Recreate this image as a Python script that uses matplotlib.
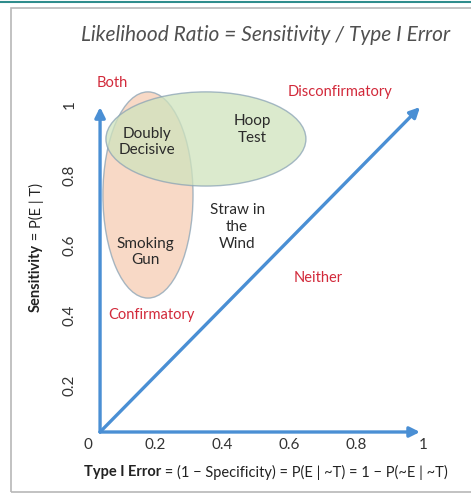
import matplotlib
matplotlib.use('Agg')
from matplotlib import pyplot as plt
from matplotlib.patches import Ellipse, Rectangle

plt.rcParams['font.family'] = ['Lato', 'DejaVu Sans']

# tick values
ticks = [0, 0.2, 0.4, 0.6, 0.8, 1]
tick_labels = ['0', '0.2', '0.4', '0.6', '0.8', '1']
ytick_vals = [0.2, 0.4, 0.6, 0.8, 1]
ytick_labels = ['0.2', '0.4', '0.6', '0.8', '1']

# regions: (label, x center, y center, width, height, fill)
regions = ['Smoking Gun', 'Hoop Test']
region_x = [0.179, 0.352]
region_y = [0.743, 0.903]
region_w = [0.269, 0.597]
region_h = [0.589, 0.269]
region_colors = ['#f6cdb3', '#cfe3bd']

# test type labels
test_names = ['Doubly\nDecisive', 'Smoking\nGun', 'Hoop\nTest', 'Straw in\nthe\nWind']
test_x = [0.176, 0.17, 0.49, 0.445]
test_y = [0.894, 0.58, 0.929, 0.651]

# corner labels
corner_names = ['Both', 'Disconfirmatory', 'Neither', 'Confirmatory']
corner_x = [0.072, 0.752, 0.687, 0.19]
corner_y = [1.063, 1.037, 0.506, 0.40]

origin = (0.036, 0.066)
x_end = 0.991
y_end = 0.994

fig = plt.figure(figsize=(4.71, 4.95), dpi=100)

# picture frame
fig.add_artist(Rectangle((11 / 471, 3 / 495), 470 / 471, 484 / 495,
                         transform=fig.transFigure, fill=False,
                         edgecolor='#b8b8b8', lw=1.2))
fig.add_artist(plt.Line2D([0, 1], [1 - 2 / 495, 1 - 2 / 495],
                          transform=fig.transFigure, color='#2f8c8c', lw=1.5))

ax = fig.add_axes([88 / 471, 63 / 495, 351.75 / 471, 362 / 495])
ax.set_xlim(0, 1.05)
ax.set_ylim(0.066, 1.1)
for s in ax.spines.values():
    s.set_visible(False)
ax.patch.set_alpha(0)

# ellipses
for i in range(len(regions)):
    e = Ellipse((region_x[i], region_y[i]), region_w[i], region_h[i],
                facecolor=region_colors[i], edgecolor='#8aa3b5', lw=1.0,
                alpha=0.75, zorder=1)
    ax.add_patch(e)

# arrows
arrow_kw = dict(arrowstyle='-|>,head_length=0.6,head_width=0.3',
                color='#4a8fd4', lw=2.4, shrinkA=0, shrinkB=0)
ax.annotate('', xy=(origin[0], y_end), xytext=origin, arrowprops=arrow_kw, zorder=3)
ax.annotate('', xy=(x_end, origin[1]), xytext=origin, arrowprops=arrow_kw, zorder=3)
ax.annotate('', xy=(x_end, y_end), xytext=origin, arrowprops=arrow_kw, zorder=3)

for name, x, y in zip(test_names, test_x, test_y):
    ax.text(x, y, name, ha='center', va='center', fontsize=11,
            color='#2a2a2a', linespacing=1.25, zorder=4)

for name, x, y in zip(corner_names, corner_x, corner_y):
    ax.text(x, y, name, ha='center', va='center', fontsize=10.5,
            color='#d2293a', zorder=4)

ax.set_xticks(ticks)
ax.set_xticklabels(tick_labels)
ax.set_yticks(ytick_vals)
ax.set_yticklabels(ytick_labels, rotation=90, va='center')
ax.tick_params(axis='both', length=0, labelsize=11, labelcolor='#333333')
ax.tick_params(axis='x', pad=4)
ax.tick_params(axis='y', pad=8)

# title
fig.text(0.563, 1 - 35 / 495, 'Likelihood Ratio = Sensitivity / Type I Error',
         ha='center', va='center', fontsize=15, style='italic',
         color='#505050')

# x label: bold part then regular part
t1 = fig.text(84 / 471, 1 - 472 / 495, 'Type I Error', ha='left', va='center',
              fontsize=10.5, fontweight='bold', color='#222222')
ax.annotate(' = (1 \u2212 Specificity) = P(E | ~T) = 1 \u2212 P(~E | ~T)',
            xy=(1, 0.5), xycoords=t1, ha='left', va='center',
            fontsize=10.5, color='#222222', annotation_clip=False)

# y label: bold part then regular part
t2 = fig.text(36 / 471, 1 - 312 / 495, 'Sensitivity', rotation=90,
              ha='center', va='bottom', fontsize=10.5, fontweight='bold',
              color='#222222')
ax.annotate(' = P(E | T)', xy=(0.5, 1), xycoords=t2, rotation=90,
            ha='center', va='bottom', fontsize=10.5, color='#222222',
            annotation_clip=False)

plt.savefig('out.png', dpi=100)
